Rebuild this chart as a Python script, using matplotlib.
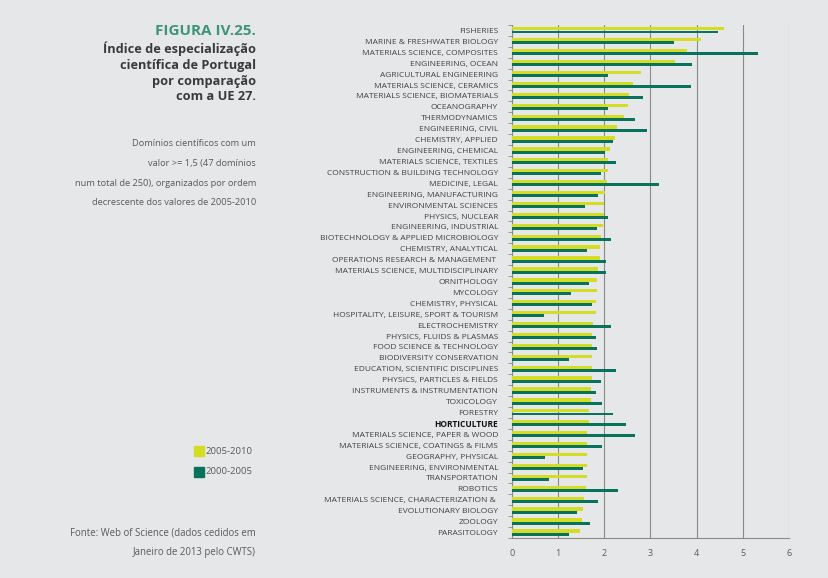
import matplotlib
matplotlib.use("Agg")
import matplotlib.pyplot as plt
import numpy as np

# domains, sorted by 2005-2010 value (top to bottom)
domains = [
    "FISHERIES", "MARINE & FRESHWATER BIOLOGY", "MATERIALS SCIENCE, COMPOSITES",
    "ENGINEERING, OCEAN", "AGRICULTURAL ENGINEERING", "MATERIALS SCIENCE, CERAMICS",
    "MATERIALS SCIENCE, BIOMATERIALS", "OCEANOGRAPHY", "THERMODYNAMICS",
    "ENGINEERING, CIVIL", "CHEMISTRY, APPLIED", "ENGINEERING, CHEMICAL",
    "MATERIALS SCIENCE, TEXTILES", "CONSTRUCTION & BUILDING TECHNOLOGY", "MEDICINE, LEGAL",
    "ENGINEERING, MANUFACTURING", "ENVIRONMENTAL SCIENCES", "PHYSICS, NUCLEAR",
    "ENGINEERING, INDUSTRIAL", "BIOTECHNOLOGY & APPLIED MICROBIOLOGY", "CHEMISTRY, ANALYTICAL",
    "OPERATIONS RESEARCH & MANAGEMENT ", "MATERIALS SCIENCE, MULTIDISCIPLINARY", "ORNITHOLOGY",
    "MYCOLOGY", "CHEMISTRY, PHYSICAL", "HOSPITALITY, LEISURE, SPORT & TOURISM",
    "ELECTROCHEMISTRY", "PHYSICS, FLUIDS & PLASMAS", "FOOD SCIENCE & TECHNOLOGY",
    "BIODIVERSITY CONSERVATION", "EDUCATION, SCIENTIFIC DISCIPLINES", "PHYSICS, PARTICLES & FIELDS",
    "INSTRUMENTS & INSTRUMENTATION", "TOXICOLOGY", "FORESTRY", "HORTICULTURE",
    "MATERIALS SCIENCE, PAPER & WOOD", "MATERIALS SCIENCE, COATINGS & FILMS", "GEOGRAPHY, PHYSICAL",
    "ENGINEERING, ENVIRONMENTAL", "TRANSPORTATION", "ROBOTICS",
    "MATERIALS SCIENCE, CHARACTERIZATION & ", "EVOLUTIONARY BIOLOGY", "ZOOLOGY", "PARASITOLOGY",
]

val_2005_2010 = [
    4.59, 4.09, 3.79, 3.54, 2.80, 2.62, 2.53, 2.51, 2.42, 2.28,
    2.24, 2.12, 2.07, 2.07, 2.05, 2.02, 2.00, 2.00, 1.97, 1.92,
    1.91, 1.90, 1.86, 1.84, 1.84, 1.82, 1.82, 1.76, 1.73, 1.73,
    1.73, 1.73, 1.73, 1.71, 1.71, 1.67, 1.66, 1.63, 1.63, 1.63,
    1.63, 1.63, 1.61, 1.56, 1.53, 1.51, 1.48,
]

val_2000_2005 = [
    4.47, 3.50, 5.32, 3.89, 2.07, 3.87, 2.83, 2.07, 2.67, 2.93,
    2.18, 2.02, 2.25, 1.92, 3.19, 1.86, 1.58, 2.07, 1.84, 2.15,
    1.63, 2.03, 2.03, 1.66, 1.27, 1.73, 0.69, 2.15, 1.82, 1.84,
    1.24, 2.25, 1.92, 1.82, 1.94, 2.18, 2.46, 2.67, 1.94, 0.71,
    1.53, 0.80, 2.30, 1.86, 1.40, 1.68, 1.24,
]

bold_domain = "HORTICULTURE"

BG = "#e6e7e8"
YELLOW = "#d5dc24"
GREEN = "#08725c"
TEAL = "#3f9478"
DARK = "#3a3a3a"
GREY = "#5a5a5a"
LINE = "#8a8a8a"

plt.rcParams['font.family'] = ['Open Sans', 'DejaVu Sans']

fig = plt.figure(figsize=(8.29, 5.78), dpi=100, facecolor=BG)
ax = fig.add_axes([512 / 829, 1 - 538 / 578, 277 / 829, 513 / 578])
ax.set_facecolor(BG)

y = np.arange(len(domains))
h = 0.3
ax.barh(y - 0.15, val_2005_2010, height=h, color=YELLOW, zorder=3)
ax.barh(y + 0.14, val_2000_2005, height=h * 0.9, color=GREEN, zorder=3)

ax.set_ylim(len(domains) - 0.5, -0.5)
ax.set_xlim(0, 6)
ax.set_xticks(range(7))
ax.set_xticklabels([str(i) for i in range(7)], fontsize=6.5, color=GREY)
ax.tick_params(axis='x', length=0, pad=8)
ax.xaxis.grid(True, color=LINE, linewidth=0.8, zorder=1)

ax.set_yticks(y)
ax.set_yticklabels(domains, fontsize=6.0, color="#404040")
ax.tick_params(axis='y', which='major', length=0, pad=10)
ax.set_yticks(np.arange(-0.5, len(domains), 1.0), minor=True)
ax.tick_params(axis='y', which='minor', length=3, color=LINE, width=0.6)
for lbl in ax.get_yticklabels():
    if lbl.get_text() == bold_domain:
        lbl.set_fontweight('bold')
        lbl.set_color('#111111')

for s in ("top", "right"):
    ax.spines[s].set_visible(False)
for s in ("left", "bottom"):
    ax.spines[s].set_color(LINE)
    ax.spines[s].set_linewidth(0.8)

# left hand text block
xr = 256 / 829
fig.text(xr, 1 - 31 / 578, "FIGURA IV.25.", ha='right', va='center',
         fontsize=11, fontweight='bold', color=TEAL)
title_lines = ["Índice de especialização", "científica de Portugal",
               "por comparação", "com a UE 27."]
for i, t in enumerate(title_lines):
    fig.text(xr, 1 - (49 + 16 * i) / 578, t, ha='right', va='center',
             fontsize=9.2, fontweight='bold', color=DARK)

desc_lines = ["Domínios científicos com um", "valor >= 1,5 (47 domínios",
              "num total de 250), organizados por ordem",
              "decrescente dos valores de 2005-2010"]
for i, t in enumerate(desc_lines):
    fig.text(xr, 1 - (144 + 19.5 * i) / 578, t, ha='right', va='center',
             fontsize=6.7, color=GREY)

# legend
for i, (lab, col) in enumerate([("2005-2010", YELLOW), ("2000-2005", GREEN)]):
    yc = 1 - (451 + 21 * i) / 578
    fig.patches.append(plt.Rectangle((194 / 829, yc - 5 / 578), 10 / 829, 10 / 578,
                                     transform=fig.transFigure, color=col, figure=fig))
    fig.text(206 / 829, yc, lab, ha='left', va='center', fontsize=6.8, color=GREY)

src_lines = ["Fonte: Web of Science (dados cedidos em", "Janeiro de 2013 pelo CWTS)"]
for i, t in enumerate(src_lines):
    fig.text(xr, 1 - (533 + 19 * i) / 578, t, ha='right', va='center',
             fontsize=6.9, color=GREY)

fig.savefig("out.png", dpi=100, facecolor=BG)
